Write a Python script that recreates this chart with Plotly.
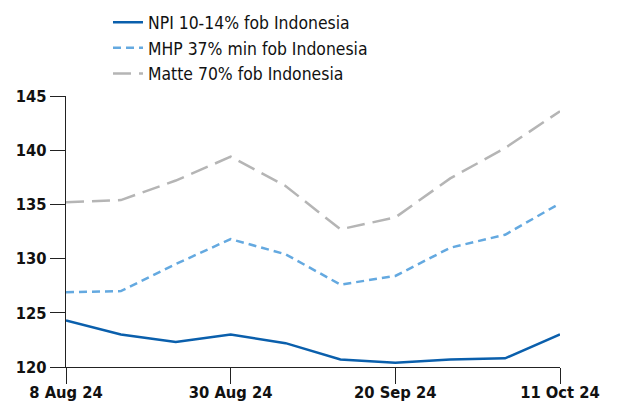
import plotly.graph_objects as go

dates = ["8 Aug 24", "15 Aug 24", "22 Aug 24", "30 Aug 24", "6 Sep 24",
         "13 Sep 24", "20 Sep 24", "27 Sep 24", "4 Oct 24", "11 Oct 24"]
npi = [124.3, 123.0, 122.3, 123.0, 122.2, 120.7, 120.4, 120.7, 120.8, 123.0]
mhp = [126.9, 127.0, 129.5, 131.8, 130.4, 127.6, 128.4, 131.0, 132.2, 135.1]
matte = [135.2, 135.4, 137.2, 139.4, 136.7, 132.7, 133.8, 137.4, 140.2, 143.6]
tick_labels = ["8 Aug 24", "30 Aug 24", "20 Sep 24", "11 Oct 24"]
y_ticks = [120, 125, 130, 135, 140, 145]

FONT = "DejaVu Sans Condensed, Liberation Sans"

fig = go.Figure()
fig.add_trace(go.Scatter(x=dates, y=npi, mode="lines", name="NPI 10-14% fob Indonesia",
                         legendgroup="a", line=dict(color="#0a5fac", width=2.5)))
fig.add_trace(go.Scatter(x=dates, y=mhp, mode="lines", name="MHP 37% min fob Indonesia",
                         legendgroup="b", line=dict(color="#64a9e0", width=2.5, dash="8px,5px")))
fig.add_trace(go.Scatter(x=dates, y=matte, mode="lines", name="Matte 70% fob Indonesia",
                         legendgroup="c", line=dict(color="#b5b5b5", width=2.5, dash="18px,8px")))

fig.update_layout(
    width=609, height=399,
    margin=dict(l=58, r=57, t=88, b=40, autoexpand=False),
    paper_bgcolor="white", plot_bgcolor="white",
    font=dict(family=FONT, color="#111111"),
    showlegend=True,
    legend=dict(x=0.085, xanchor="left", y=1.338, yanchor="top",
                font=dict(size=17.4, family=FONT, color="#111111"),
                tracegroupgap=0, bgcolor="rgba(0,0,0,0)", itemwidth=30),
    xaxis=dict(type="category", range=[0, 9], tickvals=tick_labels, ticktext=tick_labels,
               automargin=False, ticklabelstandoff=-6,
               showgrid=False, zeroline=False, showline=True, linecolor="#222222", linewidth=1.3,
               ticks="outside", ticklen=16, tickwidth=1.3, tickcolor="#222222",
               tickfont=dict(size=16.4, family=FONT, weight="bold", color="#111111")),
    yaxis=dict(range=[120, 145], tickvals=y_ticks, showgrid=False, zeroline=False,
               automargin=False,
               showline=True, linecolor="#222222", linewidth=1.3,
               ticks="outside", ticklen=15, tickwidth=1.3, tickcolor="#222222",
               tickfont=dict(size=16.4, family=FONT, weight="bold", color="#111111")),
)

fig.write_html("out.html")
